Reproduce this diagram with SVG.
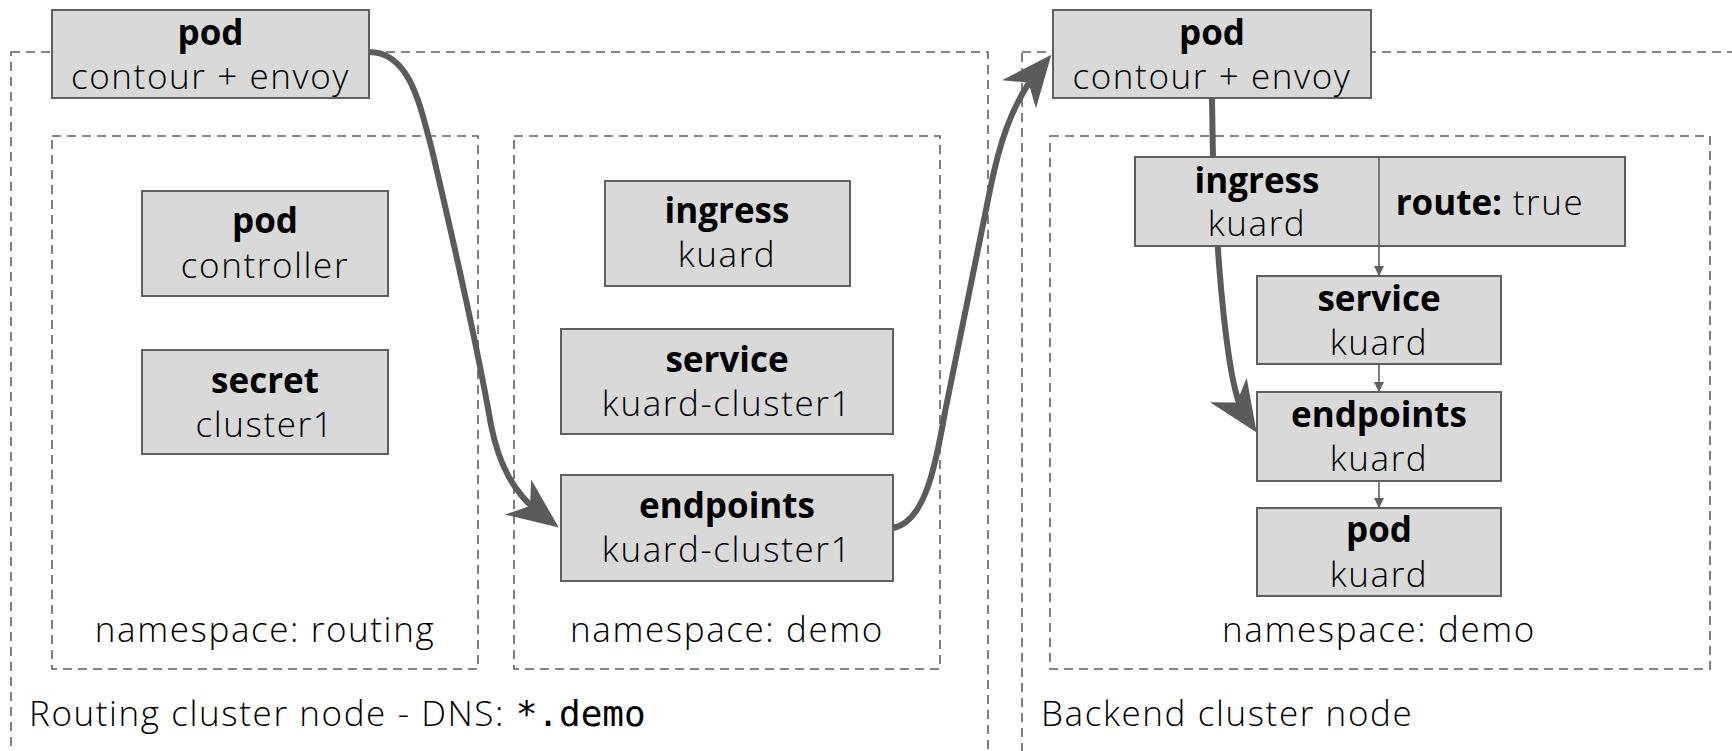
<svg xmlns="http://www.w3.org/2000/svg" width="1732" height="751" viewBox="0 0 1732 751">
<style>
.bg{fill:#ffffff}
.dash{fill:none;stroke:#5f5f5f;stroke-width:1.6;stroke-dasharray:9,6}
.box{fill:#d9d9d9;stroke:#5f5f5f;stroke-width:2}
.thick{fill:none;stroke:#5b5b5b;stroke-width:6}
.thin{fill:none;stroke:#5f5f5f;stroke-width:1.6}
text{font-family:"Open Sans","Liberation Sans",sans-serif;font-size:35px;fill:#000;text-anchor:middle}
.l{font-weight:300;letter-spacing:1.6px}
.b{font-weight:700;letter-spacing:0px}
.mono{font-family:"DejaVu Sans Mono","Liberation Mono",monospace;font-weight:400;font-size:36px;letter-spacing:0px}
.left{text-anchor:start}
</style>
<defs>
<marker id="big" markerUnits="userSpaceOnUse" markerWidth="60" markerHeight="50" viewBox="0 -25 60 50" refX="30" refY="0" orient="auto">
<path d="M51,0 L0,-22 L15,0 L0,22 Z" fill="#5b5b5b"/>
</marker>
<marker id="small" markerUnits="userSpaceOnUse" markerWidth="12" markerHeight="12" viewBox="0 -6 12 12" refX="10" refY="0" orient="auto">
<path d="M0,-5 L10,0 L0,5 Z" fill="#5f5f5f"/>
</marker>
</defs>
<rect class="bg" x="0" y="0" width="1732" height="751"/>

<g id="containers">
<rect id="routing-cluster" class="dash" x="11" y="52" width="977" height="720"/>
<rect id="backend-cluster" class="dash" x="1022" y="52" width="740" height="720"/>
<rect id="ns-routing" class="dash" x="52" y="136" width="426" height="533"/>
<rect id="ns-demo-left" class="dash" x="514" y="136" width="426" height="533"/>
<rect id="ns-demo-right" class="dash" x="1050" y="136" width="660" height="533"/>
<text class="l" x="265" y="642">namespace: routing</text>
<text class="l" x="727" y="642">namespace: demo</text>
<text class="l" x="1379" y="642">namespace: demo</text>
<text class="l left" x="29" y="726">Routing cluster node - DNS: <tspan class="mono">*.demo</tspan></text>
<text class="l left" x="1041" y="726">Backend cluster node</text>
</g>

<g id="connectors">
<path class="thick" marker-end="url(#big)" d="M369,52 C410,52 420,105 432,150 C452,235 478,350 491,425 C499,465 514,494 542,515"/>
<path class="thick" marker-end="url(#big)" d="M893,528 C924,522 935,470 945,412 L990,190 C998,150 1010,105 1038,71"/>
<path class="thick" marker-end="url(#big)" d="M1212,98 L1213,160 C1216,230 1222,320 1232,375 C1236,395 1239,406 1245,415"/>
<path class="thin" marker-end="url(#small)" d="M1379,246 L1379,276"/>
<path class="thin" marker-end="url(#small)" d="M1379,364 L1379,392"/>
<path class="thin" marker-end="url(#small)" d="M1379,481 L1379,508"/>
</g>

<g id="pod-contour-routing">
<rect class="box" x="52" y="10" width="317" height="88"/>
<text class="b" x="210.5" y="45">pod</text>
<text class="l" x="210.5" y="89">contour + envoy</text>
</g>
<g id="pod-controller">
<rect class="box" x="142" y="191" width="246" height="105"/>
<text class="b" x="265" y="233">pod</text>
<text class="l" x="265" y="278">controller</text>
</g>
<g id="secret-cluster1">
<rect class="box" x="142" y="350" width="246" height="104"/>
<text class="b" x="265" y="393">secret</text>
<text class="l" x="265" y="437">cluster1</text>
</g>
<g id="ingress-kuard-left">
<rect class="box" x="605" y="181" width="245" height="105"/>
<text class="b" x="727" y="223">ingress</text>
<text class="l" x="727" y="267">kuard</text>
</g>
<g id="service-kuard-cluster1">
<rect class="box" x="561" y="329" width="332" height="105"/>
<text class="b" x="727" y="372">service</text>
<text class="l" x="727" y="416">kuard-cluster1</text>
</g>
<g id="endpoints-kuard-cluster1">
<rect class="box" x="561" y="475" width="332" height="106"/>
<text class="b" x="727" y="518">endpoints</text>
<text class="l" x="727" y="562">kuard-cluster1</text>
</g>
<g id="pod-contour-backend">
<rect class="box" x="1053" y="10" width="318" height="88"/>
<text class="b" x="1212" y="45">pod</text>
<text class="l" x="1212" y="89">contour + envoy</text>
</g>
<g id="ingress-kuard-right">
<rect class="box" x="1135" y="157" width="490" height="89"/>
<line class="thin" x1="1379" y1="157" x2="1379" y2="246"/>
<text class="b" x="1257" y="193">ingress</text>
<text class="l" x="1257" y="236">kuard</text>
<text class="l" x="1490" y="215"><tspan class="b">route:</tspan> true</text>
</g>
<g id="service-kuard">
<rect class="box" x="1257" y="276" width="244" height="88"/>
<text class="b" x="1379" y="311">service</text>
<text class="l" x="1379" y="355">kuard</text>
</g>
<g id="endpoints-kuard">
<rect class="box" x="1257" y="392" width="244" height="89"/>
<text class="b" x="1379" y="427">endpoints</text>
<text class="l" x="1379" y="471">kuard</text>
</g>
<g id="pod-kuard">
<rect class="box" x="1257" y="508" width="244" height="88"/>
<text class="b" x="1379" y="542">pod</text>
<text class="l" x="1379" y="587">kuard</text>
</g>
</svg>
